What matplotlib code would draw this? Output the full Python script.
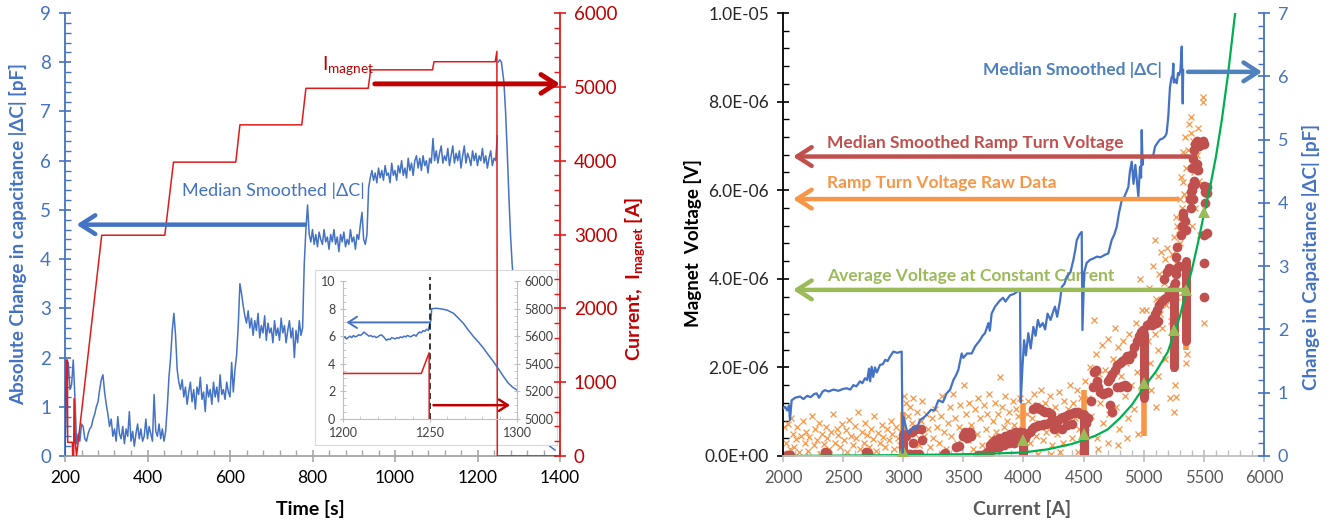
import numpy as np
import matplotlib
matplotlib.use('Agg')
import matplotlib.pyplot as plt
from matplotlib.ticker import MultipleLocator, FuncFormatter

plt.rcParams['font.family'] = ['Lato', 'DejaVu Sans']
plt.rcParams['mathtext.fontset'] = 'custom'
plt.rcParams['mathtext.rm'] = 'Lato'
plt.rcParams['mathtext.bf'] = 'Lato:bold'
plt.rcParams['mathtext.it'] = 'Lato:italic'

BLUE = '#4472C4'
RED = '#E01B1B'
DARKRED = '#C00000'
AXGRAY = '#A6A6A6'

# ---------------- left panel: |dC| and magnet current vs time ----------------
# median smoothed |dC| [pF], sampled every 4 s from 200 s to 1248 s
dc_smooth = [
    0.10, 1.30, 1.90, 1.35, 1.45, 1.95, 1.20, 0.25,
    0.45, 0.30, 0.65, 0.60, 0.35, 0.30, 0.45, 0.55, 0.60, 0.75, 0.85, 1.00, 1.10, 1.35, 1.55, 1.65, 1.30,
    1.05, 0.85, 0.60, 0.75, 0.40, 0.55, 0.30, 0.80, 0.45, 0.35,
    0.60, 0.25, 0.55, 0.40, 0.90, 0.30, 0.50, 0.20, 0.45, 0.65,
    0.35, 0.55, 0.30, 0.40, 0.75, 0.35, 0.60, 0.45, 0.30, 1.25,
    0.50, 0.40, 0.65, 0.35, 0.55, 0.30, 0.50, 1.00,
    1.60, 2.00, 2.55, 2.90, 2.45, 1.75, 1.50, 1.35, 1.55, 1.20,
    1.40, 1.05, 1.30, 1.50, 1.10, 1.35, 0.95, 1.40, 1.25, 1.60,
    1.15, 1.30, 0.90, 1.45, 1.20, 1.35, 1.05, 1.50, 1.20, 1.40,
    1.10, 1.65, 1.25, 1.35, 1.15, 1.50, 1.30, 1.20, 1.90, 1.30,
    1.75, 2.05,
    2.65, 3.50, 3.30, 3.05, 2.85, 2.70, 2.95, 2.60, 2.80, 2.45,
    2.75, 2.55, 2.90, 2.40, 2.65, 2.50, 2.85, 2.35, 2.70, 2.50,
    2.60, 2.30, 2.75, 2.45, 2.60, 2.35, 2.80, 2.50, 2.65, 2.30,
    2.55, 2.75, 2.40, 2.60, 2.00, 2.55, 2.30, 2.75, 2.45, 2.60,
    3.90, 4.60, 5.10, 4.50, 4.35, 4.60, 4.30, 4.50, 4.25, 4.55,
    4.40, 4.30, 4.60, 4.35, 4.45, 4.20, 4.50, 4.35, 4.60, 4.30,
    4.45, 4.15, 4.50, 4.35, 4.55, 4.25, 4.40, 4.30, 4.60, 4.35,
    4.45, 4.20, 4.50, 4.40, 4.70, 4.95, 4.40, 4.30, 4.50, 5.45,
    5.65, 5.80, 5.60, 5.75, 5.55, 5.85, 5.65, 5.80, 5.60, 5.90,
    5.70, 5.75, 5.55, 5.95, 5.70, 5.80, 5.60, 5.90, 5.75, 6.00,
    5.70, 5.85, 5.65, 6.05, 5.80, 5.95, 5.70, 6.00, 6.10, 5.85,
    6.05, 5.80, 6.10, 5.90, 6.00, 5.75, 6.05, 5.95,
    6.45, 6.00, 6.20, 5.95, 6.15, 6.30, 5.95, 6.10, 6.00, 6.25,
    5.90, 6.10, 6.30, 5.95, 6.15, 6.00, 6.20, 5.85, 6.10, 6.30,
    5.95, 6.15, 6.05, 5.90, 6.20, 6.00, 6.15, 5.90, 6.10, 6.00,
    6.25, 5.95, 6.10, 5.85, 6.05, 6.20, 5.90, 6.05, 6.00, 6.50,
]
time_dc = 200 + 4 * np.arange(len(dc_smooth))

# quench: capacitance decay after the current is dumped
time_decay = [1250, 1254, 1258, 1264, 1268, 1272, 1276, 1280, 1284, 1290,
              1300, 1315, 1330, 1345, 1360, 1375, 1388]
dc_decay = [8.00, 8.05, 8.00, 7.60, 7.00, 6.20, 5.30, 4.50, 3.90, 3.20,
            2.30, 1.40, 0.90, 0.55, 0.35, 0.20, 0.12]

# magnet current [A]
time_cur = [200, 203, 206, 206.5, 218, 218.5, 221, 222, 225, 228, 289, 442, 463,
            614, 624, 774, 784, 935, 941, 1091, 1094.5, 1243, 1247, 1248, 1400]
i_magnet = [0, 1300, 1300, 185, 185, 0, 0, 780, 185, 0, 2990, 2990, 3980,
            3980, 4485, 4485, 4980, 4980, 5230, 5230, 5340, 5340, 5480, 0, 0]

# inset: zoom around the quench
inset_dc = [
    5.85, 5.95, 5.80, 5.90, 6.00, 5.90, 6.05, 5.95, 6.00, 6.10,
    6.05, 6.15, 6.30, 6.20, 6.10, 6.00, 6.05, 5.95, 6.00, 5.90,
    5.95, 6.05, 6.10, 6.00, 5.85, 5.70, 5.80, 5.75, 5.90, 5.85,
    5.80, 5.90, 5.85, 5.95, 5.90, 6.00, 5.95, 6.05, 6.00, 5.95,
    6.05, 6.10, 6.00, 6.20, 6.30, 6.25, 6.40, 6.35, 6.50, 6.45,
]
inset_time_dc = 1200 + np.arange(len(inset_dc))
inset_time_decay = [1250.5, 1251, 1254, 1257.7, 1260, 1263.5, 1266, 1269.2, 1272, 1275,
                    1278, 1280.8, 1283.5, 1286.5, 1289.5, 1292.3, 1295, 1297.5, 1300]
inset_decay = [7.2, 8.0, 8.02, 7.95, 7.88, 7.66, 7.35, 6.93, 6.45, 5.97,
               5.55, 5.12, 4.65, 4.15, 3.6, 3.07, 2.6, 2.3, 2.1]
inset_time_cur = [1200, 1245, 1249.5, 1250]
inset_cur = [5330, 5330, 5480, 0]

# ---------------- right panel: voltage and |dC| vs current ----------------
# raw ramp turn voltage [uV]
raw_I = [2010, 2025, 2040, 2055, 2070, 2080, 2095, 2110, 2120, 2135,
         2150, 2165, 2180, 2195, 2205, 2220, 2240, 2255, 2270, 2285,
         2300, 2310, 2325, 2340, 2355, 2370, 2385, 2400, 2415, 2430,
         2445, 2460, 2475, 2490, 2505, 2520, 2535, 2550, 2565, 2580,
         2595, 2610, 2625, 2640, 2655, 2670, 2685, 2700, 2715, 2730,
         2745, 2760, 2775, 2790, 2805, 2820, 2835, 2850, 2865, 2880,
         2895, 2910, 2925, 2940, 2955, 2970, 2985, 3010, 3025, 3040,
         3055, 3070, 3085, 3100, 3115, 3130, 3145, 3160, 3175, 3190,
         3205, 3220, 3235, 3250, 3265, 3280, 3295, 3310, 3325, 3340,
         3355, 3370, 3385, 3400, 3415, 3430, 3445, 3460, 3475, 3490,
         3505, 3520, 3535, 3550, 3565, 3580, 3595, 3610, 3625, 3640,
         3655, 3670, 3685, 3700, 3715, 3730, 3745, 3760, 3775, 3790,
         3805, 3820, 3835, 3850, 3865, 3880, 3895, 3910, 3925, 3940,
         3955, 3970, 3985, 4010, 4025, 4040, 4055, 4070, 4085, 4100,
         4115, 4130, 4145, 4160, 4175, 4190, 4205, 4220, 4235, 4250,
         4265, 4280, 4295, 4310, 4325, 4340, 4355, 4370, 4385, 4400,
         4415, 4430, 4445, 4460, 4475, 4490, 4120, 4300, 4450, 4510,
         4520, 4535, 4550, 4560, 4575, 4590, 4600, 4610, 4625, 4640,
         4655, 4665, 4680, 4695, 4705, 4715, 4730, 4745, 4761, 4770,
         4785, 4795, 4810, 4825, 4840, 4855, 4870, 4880, 4895, 4910,
         4920, 4935, 4945, 4960, 4975, 4985, 4950, 4620, 4700, 4790,
         4860, 4965, 5010, 5020, 5035, 5045, 5055, 5065, 5080, 5090,
         5094, 5105, 5115, 5125, 5135, 5145, 5155, 5165, 5175, 5185,
         5195, 5205, 5215, 5225, 5235, 5245, 5255, 5265, 5255, 5260,
         5270, 5280, 5290, 5300, 5310, 5320, 5330, 5335, 5330, 5340,
         5350, 5360, 5370, 5380, 5390, 5395, 5400, 5410, 5420, 5430,
         5440, 5450, 5460, 5470, 5480, 5490, 5495, 5500, 5350, 5360,
         5270, 5280, 5300, 5310, 5060, 5120, 5180, 5220, 5100, 4230]
raw_V = [0.66, 0.30, 0.72, 0.15, 0.85, 0.50, 0.20, 0.38, 0.65, 0.10,
         0.45, 0.78, 0.30, 0.55, 0.12, 0.42, 0.90, 0.25, 0.60, 0.35,
         0.75, 0.05, 0.50, 0.28, 0.65, 0.40, 0.15, 0.55, 0.95, 0.30,
         0.62, 0.48, 0.20, 0.72, 0.35, 0.58, 0.10, 0.82, 0.45, 0.25,
         0.68, 0.40, 1.00, 0.15, 0.55, 0.30, 0.75, 0.48, 0.20, 0.62,
         0.38, 0.90, 0.12, 0.52, 0.30, 0.70, 0.42, 0.20, 0.60, 0.35,
         0.80, 0.50, 0.15, 0.65, 0.40, 0.25, 0.55, 1.35, 1.20, 0.90,
         1.10, 0.75, 1.30, 0.50, 1.00, 0.25, 0.80, 1.25, 0.45, 0.95,
         0.60, 0.20, 0.85, 0.40, 1.05, 0.65, 0.30, 0.90, 1.35, 0.55,
         0.15, 0.75, 1.10, 0.45, 1.40, 0.85, 0.30, 0.65, 1.15, 0.50,
         1.60, 0.95, 0.35, 1.20, 0.70, 0.15, 1.05, 0.50, 1.30, 0.85,
         0.25, 1.15, 0.60, 0.95, 1.40, 0.40, 0.80, 1.20, 0.55, 0.95,
         1.79, 1.10, 0.65, 1.35, 0.80, 1.00, 0.45, 1.25, 0.70, 1.05,
         0.90, 1.30, 0.60, 0.20, 0.95, 1.25, 0.30, 0.85, 1.40, 0.45,
         1.15, 0.75, 1.50, 0.35, 1.20, 0.55, 1.00, 1.35, 0.25, 0.80,
         1.10, 0.50, 1.45, 0.90, 0.30, 1.25, 0.70, 1.05, 1.60, 0.40,
         1.20, 0.85, 1.50, 0.60, 1.30, 0.20, 0.05, 0.10, 0.10, 1.70,
         0.55, 1.30, 2.00, 0.90, 1.60, 3.07, 2.30, 0.40, 1.85, 1.20,
         2.50, 0.75, 1.95, 1.40, 2.65, 0.95, 1.75, 2.20, 2.90, 1.10,
         2.45, 0.60, 1.80, 2.60, 1.35, 2.10, 0.85, 2.75, 1.60, 2.35,
         1.05, 3.00, 1.90, 2.50, 1.45, 3.30, 0.50, 0.15, 0.30, 0.25,
         0.40, 4.00, 2.30, 3.30, 2.60, 3.80, 2.10, 3.05, 4.30, 2.75,
         4.88, 3.55, 2.40, 4.10, 3.20, 4.60, 2.90, 3.90, 4.45, 3.40,
         4.70, 3.65, 4.25, 3.05, 4.55, 3.80, 4.95, 1.34, 1.00, 1.60,
         4.35, 3.60, 5.10, 4.80, 5.40, 5.60, 6.19, 5.92, 6.87, 7.20,
         6.50, 5.80, 6.90, 7.50, 7.66, 7.30, 5.20, 7.10, 6.40, 5.60,
         6.80, 7.40, 6.20, 5.00, 7.00, 8.00, 8.11, 3.00, 2.10, 2.30,
         5.40, 5.20, 5.80, 6.30, 1.50, 1.80, 2.20, 1.30, 1.10, 0.05]

# raw readings stacked while the current is held constant [A, uV, uV]
hold_I = [3000, 4000, 4500, 5000, 5250, 5350]
hold_raw_lo = [0.15, 0.0, 0.0, 0.45, 1.9, 2.4]
hold_raw_hi = [1.0, 1.2, 1.5, 2.0, 3.9, 4.4]
hold_med_lo = [0.0, 0.0, 0.0, 1.3, 2.0, 2.6]
hold_med_hi = [0.5, 0.55, 0.95, 2.75, 3.85, 4.4]

# median smoothed ramp turn voltage [uV]
med_I = [2030, 2060, 2350, 2365, 2690, 2705, 3010, 3020, 3040, 3060,
         3070, 3085, 3100, 3110, 3130, 3150, 3160, 3340, 3350, 3440,
         3460, 3500, 3515, 3530, 3545, 3555, 3560, 3620, 3650, 3680,
         3700, 3720, 3740, 3760, 3780, 3800, 3830, 3850, 3870, 3890,
         3910, 3930, 3950, 3970, 3720, 3760, 3800, 3840, 3880, 3920,
         3960, 4010, 4030, 4050, 4070, 4090, 4110, 4130, 4150, 4170,
         4190, 4210, 4230, 4250, 4270, 4290, 4310, 4330, 4350, 4370,
         4390, 4410, 4430, 4450, 4470, 4080, 4100, 4120, 4140, 4160,
         4180, 4200, 4230, 4250, 4280, 4320, 4360, 4400, 4520, 4540,
         4560, 4580, 4590, 4600, 4610, 4620, 4640, 4660, 4680, 4700,
         4720, 4735, 4700, 4720, 4740, 4760, 4780, 4800, 4820, 4840,
         4860, 4880, 4900, 4920, 4940, 4960, 4975, 4990, 4780, 4800,
         4820, 4840, 4860, 5030, 5050, 5070, 5090, 5110, 5130, 5150,
         5170, 5190, 5210, 5230, 5260, 5270, 5280, 5290, 5070, 5100,
         5120, 5170, 5190, 5210, 5270, 5280, 5310, 5320, 5330, 5340,
         5350, 5329, 5385, 5395, 5405, 5415, 5425, 5400, 5410, 5420,
         5430, 5445, 5460, 5475, 5490, 5500, 5440, 5455, 5392, 5400,
         5410, 5500, 5500, 5505, 5510, 5510, 5505, 5525, 5525, 5525]
med_V = [0.02, 0.02, 0.08, 0.06, 0.08, 0.07, 0.05, 0.45, 0.05, 0.05,
         0.55, 0.30, 0.05, 0.60, 0.05, 0.60, 0.35, 0.05, 0.07, 0.20,
         0.22, 0.45, 0.55, 0.40, 0.50, 0.55, 0.45, 0.03, 0.03, 0.05,
         0.10, 0.25, 0.30, 0.35, 0.35, 0.40, 0.40, 0.45, 0.45, 0.50,
         0.50, 0.55, 0.52, 0.55, 0.10, 0.20, 0.20, 0.25, 0.30, 0.30,
         0.35, 0.40, 0.50, 0.55, 0.60, 0.65, 0.68, 0.70, 0.70, 0.72,
         0.72, 0.75, 0.78, 0.78, 0.80, 0.82, 0.85, 0.88, 0.90, 0.92,
         0.95, 0.98, 1.00, 1.00, 0.95, 1.05, 1.10, 1.08, 1.05, 1.02,
         1.00, 1.00, 0.95, 0.60, 0.65, 0.62, 0.70, 0.72, 0.75, 0.85,
         1.25, 1.55, 1.90, 1.95, 1.70, 1.55, 1.45, 1.40, 1.42, 1.45,
         1.15, 1.00, 1.70, 1.75, 1.85, 1.95, 2.05, 2.10, 2.15, 2.20,
         2.25, 2.20, 2.30, 2.45, 2.60, 2.70, 2.80, 2.85, 1.55, 1.55,
         1.58, 1.60, 1.55, 2.95, 3.00, 3.10, 3.20, 3.30, 3.40, 3.50,
         3.55, 3.60, 3.70, 3.75, 3.90, 4.10, 4.25, 4.30, 2.95, 3.00,
         3.05, 4.00, 4.15, 4.25, 4.50, 4.72, 5.00, 5.20, 5.40, 5.30,
         5.10, 5.48, 5.80, 5.95, 6.10, 6.20, 6.15, 6.50, 6.70, 6.90,
         7.05, 7.10, 7.00, 7.06, 7.10, 7.05, 6.60, 6.45, 5.60, 6.00,
         5.80, 3.60, 4.35, 5.00, 5.70, 5.95, 6.10, 6.07, 5.93, 5.03]

# average voltage at each constant current step [A, uV]
avg_I = [3000, 4000, 4500, 5000, 5250, 5350, 5500]
avg_V = [0.12, 0.35, 0.50, 1.65, 2.85, 3.75, 5.50]

# fitted voltage curve [A, uV]
fit_I = [2000, 2500, 3000, 3500, 3800, 4000, 4200, 4400, 4500, 4600, 4700, 4800, 4900, 5000,
         5100, 5200, 5250, 5300, 5350, 5400, 5450, 5500, 5550, 5600, 5650, 5700, 5760]
fit_V = [0.0, 0.01, 0.02, 0.04, 0.06, 0.08, 0.15, 0.27, 0.36, 0.46, 0.60, 0.85, 1.15, 1.55,
         1.90, 2.35, 2.75, 3.15, 3.70, 4.20, 4.80, 5.45, 6.05, 6.75, 7.60, 8.60, 10.0]

# median smoothed |dC| [pF] against current
cur_dc = [2000, 2017, 2035, 2050, 2058, 2072, 2100, 2141, 2170, 2200,
          2230, 2260, 2280, 2300, 2330, 2349, 2380, 2420, 2460, 2500,
          2529, 2560, 2585, 2610, 2640, 2660, 2682, 2700, 2715, 2725,
          2737, 2750, 2765, 2780, 2807, 2830, 2850, 2870, 2890, 2918,
          2950, 2987,
          2995, 3000, 3010, 3030, 3056, 3080, 3110, 3139, 3165, 3195,
          3230, 3260, 3292, 3330, 3361, 3390, 3417, 3440, 3458, 3486,
          3500, 3530, 3569, 3597, 3638, 3660, 3680, 3708, 3720, 3735,
          3763, 3805, 3830, 3850, 3888, 3920, 3950, 3971,
          3977, 3990, 4005, 4020, 4040, 4060, 4082, 4100, 4120, 4137,
          4160, 4180, 4200, 4225, 4250, 4262, 4280, 4304, 4318, 4340,
          4359, 4390, 4415, 4430, 4443, 4465, 4484,
          4490, 4505, 4525, 4553, 4580, 4610, 4640, 4678, 4705, 4733,
          4755, 4775, 4795, 4817, 4840, 4872, 4885, 4900, 4915, 4930,
          4955, 4969, 4978, 4983, 4990, 4997,
          5020, 5050, 5080, 5094, 5115, 5135, 5160, 5177, 5190, 5204,
          5218, 5232, 5240, 5246, 5250, 5262, 5274, 5285, 5295, 5305,
          5316, 5320, 5324, 5328]
dc_vs_cur = [0.75, 0.78, 0.72, 0.80, 0.57, 0.88, 0.92, 0.94, 0.90, 0.95,
             0.93, 0.98, 0.99, 0.92, 1.02, 1.04, 1.02, 1.05, 1.03, 1.06,
             1.07, 1.05, 1.12, 1.10, 1.18, 1.15, 1.23, 1.20, 1.38, 1.18,
             1.41, 1.25, 1.40, 1.32, 1.44, 1.45, 1.52, 1.50, 1.57, 1.65,
             1.63, 1.65,
             0.05, 0.62, 0.55, 0.40, 0.36, 0.46, 0.42, 0.57, 0.60, 0.65,
             0.73, 0.72, 0.88, 0.85, 0.99, 1.05, 1.20, 1.28, 1.36, 1.62,
             1.55, 1.62, 1.62, 1.73, 1.83, 1.90, 1.94, 2.10, 1.98, 2.25,
             2.36, 2.46, 2.50, 2.44, 2.54, 2.56, 2.60, 2.62,
             0.85, 1.36, 1.83, 1.59, 1.94, 1.70, 2.04, 1.90, 2.15, 2.04,
             2.10, 2.00, 2.25, 2.15, 2.30, 2.36, 2.20, 2.46, 2.67, 2.72,
             2.83, 2.90, 3.10, 3.25, 3.41, 3.50, 3.54,
             1.99, 2.90, 3.05, 3.10, 3.12, 3.15, 3.14, 3.18, 3.20, 3.41,
             3.50, 3.62, 3.85, 4.04, 4.10, 4.25, 4.50, 4.65, 4.30, 4.60,
             4.10, 4.57, 4.40, 5.15, 4.60, 4.73,
             4.74, 4.72, 4.76, 4.89, 4.95, 5.00, 5.02, 5.05, 5.10, 5.36,
             5.83, 5.99, 6.00, 6.20, 5.90, 5.95, 5.89, 6.05, 6.02, 6.10,
             6.47, 6.00, 5.57, 6.10]

UV = 1e-6


def arrow(ax, tip, tail, color, lw=3.0, scale=15, coords='data'):
    ax.annotate('', xy=tip, xytext=tail, xycoords=coords, textcoords=coords,
                arrowprops=dict(arrowstyle='->,head_length=0.7,head_width=0.45',
                                lw=lw, color=color, shrinkA=0, shrinkB=0,
                                mutation_scale=scale))


fig = plt.figure(figsize=(13.35, 5.25), dpi=100)

# ---- left panel ----
ax = fig.add_axes([65 / 1335, 69 / 525, 495 / 1335, 443 / 525])
ax2 = ax.twinx()
ax2.set_zorder(2)

ax.plot(time_dc, dc_smooth, color=BLUE, lw=1.1)
ax.plot(time_decay, dc_decay, color=BLUE, lw=1.1)
ax2.plot(time_cur, i_magnet, color=RED, lw=1.1)

ax.set_xlim(200, 1400)
ax.set_ylim(0, 9)
ax2.set_ylim(0, 6000)

for s in ['top', 'right']:
    ax.spines[s].set_visible(False)
for s in ['top', 'left', 'bottom']:
    ax2.spines[s].set_visible(False)
ax.spines['left'].set_color(BLUE)
ax.spines['left'].set_linewidth(1.3)
ax.spines['bottom'].set_color(AXGRAY)
ax.spines['bottom'].set_linewidth(1.3)
ax2.spines['right'].set_color(RED)
ax2.spines['right'].set_linewidth(1.3)

ax.xaxis.set_major_locator(MultipleLocator(200))
ax.xaxis.set_minor_locator(MultipleLocator(40))
ax.yaxis.set_major_locator(MultipleLocator(1))
ax.yaxis.set_minor_locator(MultipleLocator(0.2))
ax2.yaxis.set_major_locator(MultipleLocator(1000))
ax2.yaxis.set_minor_locator(MultipleLocator(200))

ax.tick_params(axis='y', which='major', direction='inout', length=8, width=1.2,
               color=BLUE, labelcolor=BLUE, labelsize=13.5, pad=6)
ax.tick_params(axis='y', which='minor', direction='in', length=4, width=1, color=BLUE)
ax.tick_params(axis='x', which='major', direction='inout', length=8, width=1.2,
               color=AXGRAY, labelcolor='black', labelsize=12.5, pad=6)
ax.tick_params(axis='x', which='minor', direction='in', length=4, width=1, color=AXGRAY)
ax2.tick_params(axis='y', which='major', direction='inout', length=8, width=1.2,
                color=RED, labelcolor=DARKRED, labelsize=13.5, pad=6)
ax2.tick_params(axis='y', which='minor', direction='in', length=4, width=1, color=RED)

ax.set_ylabel('Absolute Change in capacitance |ΔC| [pF]', color=BLUE,
              fontsize=13.5, fontweight='bold')
ax.yaxis.set_label_coords(-0.077, 0.5)
ax.set_xlabel('Time [s]', fontsize=14, fontweight='bold')
ax.xaxis.set_label_coords(0.495, -0.099)
ax2.set_ylabel('Current,  I$_{\\mathbf{magnet}}$ [A]', color=DARKRED,
               fontsize=14, fontweight='bold')
ax2.yaxis.set_label_coords(1.127, 0.40)

ax.text(705, 5.39, 'Median Smoothed |ΔC|', color=BLUE, fontsize=13,
        ha='center', va='center',
        bbox=dict(facecolor='white', edgecolor='none', pad=1))
arrow(ax2, (228, 4.7), (782, 4.7), BLUE, lw=3.2, coords=ax.transData)
ax2.text(822, 5290, 'I$_{\\mathrm{magnet}}$', color=DARKRED, fontsize=14,
         ha='left', va='center')
arrow(ax2, (1400, 5040), (951, 5040), DARKRED, lw=3.5)

# inset frame and axes
box = fig.add_axes([315 / 1335, 80 / 525, 242 / 1335, 175 / 525])
box.set_zorder(1)
box.set_xticks([])
box.set_yticks([])
for s in box.spines.values():
    s.set_color('#D9D9D9')

ins = fig.add_axes([343 / 1335, 106 / 525, 174 / 1335, 138 / 525])
ins.set_zorder(3)
ins.patch.set_visible(False)
ins2 = ins.twinx()
ins2.set_zorder(4)

ins.plot(inset_time_dc, inset_dc, color=BLUE, lw=1.1)
ins.plot(inset_time_decay, inset_decay, color=BLUE, lw=1.1)
ins.plot([inset_time_dc[-1], inset_time_decay[0]], [inset_dc[-1], inset_decay[0]],
         color=BLUE, lw=1.1)
ins2.plot(inset_time_cur, inset_cur, color=RED, lw=1.1)
ins.plot([1250, 1250], [0, 10.3], color='black', lw=1.1, ls=(0, (4, 2.5)), clip_on=False)

ins.set_xlim(1200, 1300)
ins.set_ylim(0, 10)
ins2.set_ylim(5000, 6000)
ins.xaxis.set_major_locator(MultipleLocator(50))
ins.xaxis.set_minor_locator(MultipleLocator(10))
ins.yaxis.set_major_locator(MultipleLocator(2))
ins.yaxis.set_minor_locator(MultipleLocator(0.5))
ins2.yaxis.set_major_locator(MultipleLocator(200))
ins2.yaxis.set_minor_locator(MultipleLocator(50))
for s in ['top', 'right']:
    ins.spines[s].set_visible(False)
for s in ['top', 'left', 'bottom']:
    ins2.spines[s].set_visible(False)
for s in [ins.spines['left'], ins.spines['bottom'], ins2.spines['right']]:
    s.set_color('#BFBFBF')
for a in (ins, ins2):
    a.tick_params(which='major', direction='inout', length=5, width=0.8,
                  color='#BFBFBF', labelcolor='#404040', labelsize=9, pad=3)
    a.tick_params(which='minor', direction='in', length=2.5, width=0.6, color='#BFBFBF')

arrow(ins, (1202, 7.0), (1250, 7.0), BLUE, lw=1.4, scale=9)
arrow(ins2, (1296, 5100), (1252, 5100), DARKRED, lw=1.8, scale=9)

# ---- right panel ----
rax = fig.add_axes([783 / 1335, 69 / 525, 481 / 1335, 443 / 525])
rax2 = rax.twinx()

rax.plot(raw_I, np.array(raw_V) * UV, ls='none', marker='x', ms=4, mew=0.9, color='#F79646')
rax.vlines(hold_I, np.array(hold_raw_lo) * UV, np.array(hold_raw_hi) * UV,
           color='#F79646', lw=4)
rax.plot(med_I, np.array(med_V) * UV, ls='none', marker='o', ms=7, mew=0, color='#C0504D')
rax.vlines(hold_I, np.array(hold_med_lo) * UV, np.array(hold_med_hi) * UV,
           color='#C0504D', lw=6.5, capstyle='round')
rax.plot(fit_I, np.array(fit_V) * UV, color='#00B050', lw=1.6)
rax.plot(avg_I, np.array(avg_V) * UV, ls='none', marker='^', ms=9, mew=0,
         color='#9BBB59', zorder=5)
rax2.plot(cur_dc, dc_vs_cur, color=BLUE, lw=1.6)

rax.set_xlim(2000, 6000)
rax.set_ylim(0, 1e-5)
rax2.set_ylim(0, 7)

for s in ['top', 'right']:
    rax.spines[s].set_visible(False)
for s in ['top', 'left', 'bottom']:
    rax2.spines[s].set_visible(False)
rax.spines['left'].set_color('black')
rax.spines['left'].set_linewidth(1.3)
rax.spines['bottom'].set_color('#BFBFBF')
rax.spines['bottom'].set_linewidth(1.3)
rax2.spines['right'].set_color(BLUE)
rax2.spines['right'].set_linewidth(1.3)

rax.xaxis.set_major_locator(MultipleLocator(500))
rax.xaxis.set_minor_locator(MultipleLocator(100))
rax.yaxis.set_major_locator(MultipleLocator(2e-6))
rax.yaxis.set_minor_locator(MultipleLocator(4e-7))
rax.yaxis.set_major_formatter(FuncFormatter(lambda v, p: '%.1E' % v))
rax2.yaxis.set_major_locator(MultipleLocator(1))
rax2.yaxis.set_minor_locator(MultipleLocator(0.2))

rax.tick_params(axis='y', which='major', direction='inout', length=8, width=1.2,
                color='black', labelcolor='#262626', labelsize=12.5, pad=6)
rax.tick_params(axis='y', which='minor', direction='in', length=4, width=1, color='black')
rax.tick_params(axis='x', which='major', direction='inout', length=8, width=1.2,
                color='#BFBFBF', labelcolor='#595959', labelsize=12, pad=6)
rax.tick_params(axis='x', which='minor', direction='in', length=4, width=1, color='#BFBFBF')
rax2.tick_params(axis='y', which='major', direction='inout', length=8, width=1.2,
                 color=BLUE, labelcolor=BLUE, labelsize=13, pad=6)
rax2.tick_params(axis='y', which='minor', direction='in', length=4, width=1, color=BLUE)

rax.set_ylabel('Magnet  Voltage [V]', fontsize=13.5, fontweight='bold')
rax.yaxis.set_label_coords(-0.168, 0.48)
rax.set_xlabel('Current [A]', color='#595959', fontsize=14, fontweight='bold')
rax.xaxis.set_label_coords(0.497, -0.099)
rax2.set_ylabel('Change in Capacitance |ΔC| [pF]', color=BLUE,
                fontsize=13.5, fontweight='bold')
rax2.yaxis.set_label_coords(1.079, 0.45)

label_box = dict(facecolor='white', edgecolor='none', pad=1)
rax2.text(4403, 6.1, 'Median Smoothed |ΔC|', color='#4F81BD', fontsize=12.5,
          fontweight='bold', ha='center', va='center')
arrow(rax2, (5985, 6.07), (5368, 6.07), '#4F81BD', lw=3.2)
rax.text(2363, 7.06e-6, 'Median Smoothed Ramp Turn Voltage', color='#C0504D',
         fontsize=12.5, fontweight='bold', ha='left', va='center', bbox=label_box)
arrow(rax2, (2083, 6.76e-6), (5426, 6.76e-6), '#C0504D', lw=3.2, coords=rax.transData)
rax.text(2363, 6.16e-6, 'Ramp Turn Voltage Raw Data', color='#F79646',
         fontsize=12.5, fontweight='bold', ha='left', va='center', bbox=label_box)
arrow(rax2, (2083, 5.8e-6), (5277, 5.8e-6), '#F79646', lw=3.2, coords=rax.transData)
rax.text(2363, 4.06e-6, 'Average Voltage at Constant Current', color='#9BBB59',
         fontsize=12.5, fontweight='bold', ha='left', va='center', bbox=label_box)
arrow(rax2, (2083, 3.75e-6), (5360, 3.75e-6), '#9BBB59', lw=3.2, coords=rax.transData)

fig.savefig('out.png', dpi=100)
